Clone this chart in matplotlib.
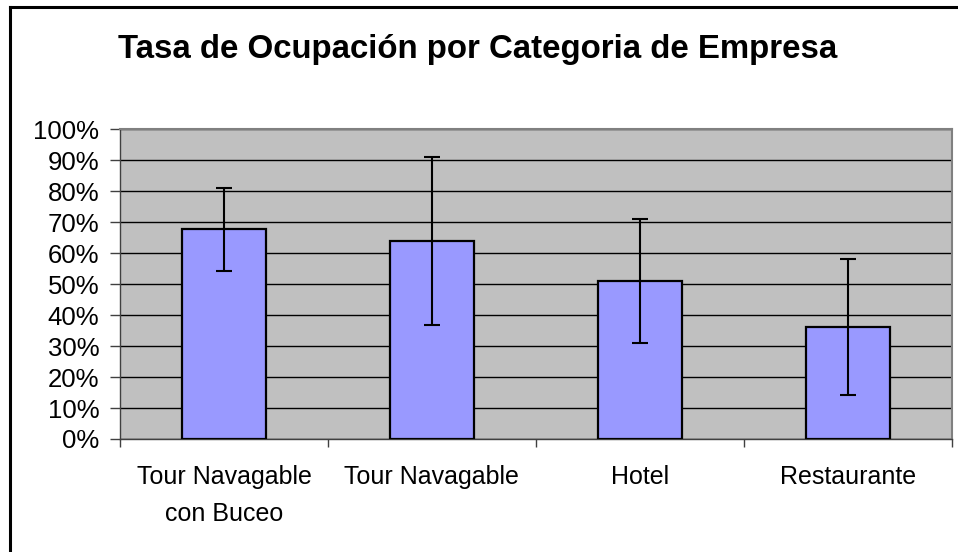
import matplotlib
matplotlib.use("Agg")
import matplotlib.pyplot as plt
from matplotlib.lines import Line2D
import numpy as np

categories = ["Tour Navagable\ncon Buceo", "Tour Navagable", "Hotel", "Restaurante"]
ocupacion = [0.677, 0.64, 0.51, 0.361]
error = [0.133, 0.271, 0.20, 0.22]
yticks = [0.0, 0.1, 0.2, 0.3, 0.4, 0.5, 0.6, 0.7, 0.8, 0.9, 1.0]
ytick_labels = ["0%", "10%", "20%", "30%", "40%", "50%", "60%", "70%", "80%", "90%", "100%"]
title = "Tasa de Ocupación por Categoria de Empresa"

plt.rcParams['font.family'] = ['Liberation Sans', 'DejaVu Sans']

W, H = 958, 552
fig = plt.figure(figsize=(W / 100, H / 100), dpi=100)
fig.patch.set_facecolor("white")

left, right, top, bottom = 120, 951.7, 129.3, 439
ax = fig.add_axes([left / W, 1 - bottom / H, (right - left) / W, (bottom - top) / H])
ax.set_facecolor("#C0C0C0")

x = np.arange(len(categories))
ax.bar(x, ocupacion, width=0.405, color="#9999FF", edgecolor="black", linewidth=1.6, zorder=3)
ax.errorbar(x, ocupacion, yerr=error, fmt="none", ecolor="black", elinewidth=1.5,
            capsize=5.5, capthick=1.5, zorder=4)

ax.set_xlim(-0.5, len(categories) - 0.5)
ax.set_ylim(0, 1)
ax.set_yticks(yticks)
ax.set_yticklabels(ytick_labels)
ax.set_xticks(np.arange(len(categories) + 1) - 0.5)
ax.set_xticklabels([])
ax.set_xticks(x, minor=True)
ax.set_xticklabels(categories, minor=True, fontsize=18, linespacing=1.65)
ax.tick_params(axis="x", which="minor", length=0, pad=19)
ax.tick_params(axis="x", which="major", length=6, width=1, color="#404040", direction="out")
ax.tick_params(axis="y", length=7, width=1, color="#404040", direction="out", pad=8, labelsize=18.5)

ax.grid(axis="y", color="black", linewidth=1.0, zorder=1)
ax.set_axisbelow(True)
for s in ["top", "right"]:
    ax.spines[s].set_color("#808080")
    ax.spines[s].set_linewidth(1.5)
for s in ["left", "bottom"]:
    ax.spines[s].set_color("#404040")
    ax.spines[s].set_linewidth(1.0)

fig.text(477.5 / W, 1 - 49 / H, title, ha="center", va="center", fontsize=23.8,
         fontweight="bold")

# outer chart border (left and top visible)
fig.add_artist(Line2D([9.5 / W, 9.5 / W], [0, 1 - 7 / H], transform=fig.transFigure,
                      color="black", linewidth=2.2))
fig.add_artist(Line2D([9.5 / W, 1], [1 - 7 / H, 1 - 7 / H], transform=fig.transFigure,
                      color="black", linewidth=2.2))

fig.savefig("out.png", dpi=100, facecolor="white")
